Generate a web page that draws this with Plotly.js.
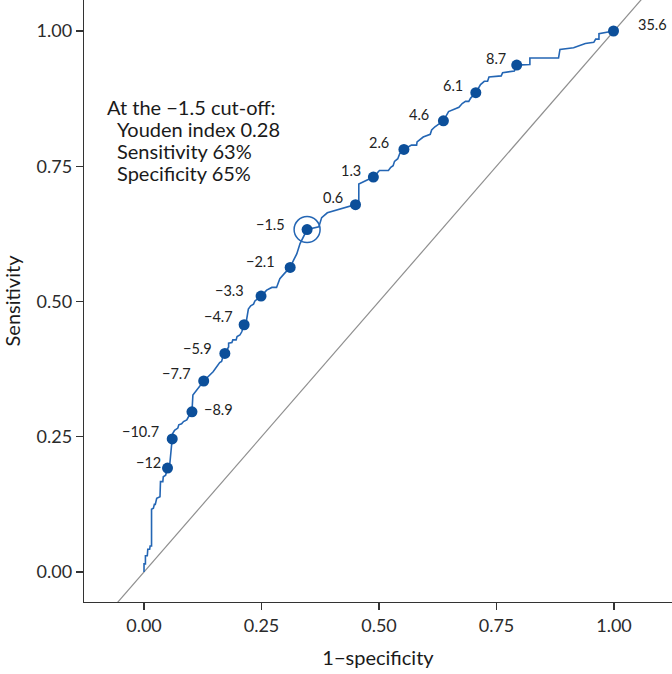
<!DOCTYPE html>
<html>
<head>
<meta charset="utf-8">
<script src="https://cdn.plot.ly/plotly-3.0.1.min.js"></script>
<style>
  html, body { margin: 0; padding: 0; background: #fff; }
  #graph { width: 672px; height: 674px; }
</style>
</head>
<body>
<div id="graph"></div>
<script>
// ROC curve vertices (1-specificity, sensitivity)
var rocX = [0.000, 0.000, 0.003, 0.003, 0.007, 0.008, 0.012, 0.013, 0.016, 0.016,
  0.020, 0.022, 0.024, 0.027, 0.034, 0.035, 0.040, 0.041, 0.046, 0.050,
  0.055, 0.057, 0.059, 0.060, 0.061, 0.065, 0.072, 0.074, 0.080, 0.084,
  0.091, 0.094, 0.102, 0.104, 0.127, 0.147, 0.156, 0.161, 0.165, 0.168,
  0.172, 0.180, 0.180, 0.187, 0.189, 0.196, 0.198, 0.204, 0.208, 0.213,
  0.218, 0.220, 0.222, 0.227, 0.233, 0.236, 0.249, 0.261, 0.272, 0.282,
  0.286, 0.289, 0.298, 0.311, 0.318, 0.325, 0.332, 0.339, 0.347, 0.372,
  0.378, 0.390, 0.450, 0.457, 0.457, 0.488, 0.501, 0.520, 0.525, 0.530,
  0.533, 0.540, 0.544, 0.553, 0.569, 0.580, 0.581, 0.594, 0.609, 0.612,
  0.619, 0.637, 0.648, 0.662, 0.670, 0.677, 0.684, 0.691, 0.695, 0.706,
  0.716, 0.724, 0.731, 0.734, 0.760, 0.763, 0.788, 0.793, 0.821, 0.821,
  0.882, 0.885, 0.914, 0.939, 0.957, 0.961, 0.968, 0.968, 0.999]
var rocY = [0.000, 0.015, 0.015, 0.030, 0.030, 0.042, 0.042, 0.048, 0.048, 0.116,
  0.118, 0.125, 0.125, 0.136, 0.139, 0.167, 0.167, 0.176, 0.179, 0.192,
  0.201, 0.219, 0.226, 0.246, 0.256, 0.262, 0.266, 0.272, 0.274, 0.278,
  0.281, 0.286, 0.296, 0.327, 0.353, 0.370, 0.380, 0.387, 0.389, 0.398,
  0.404, 0.416, 0.423, 0.424, 0.429, 0.429, 0.435, 0.438, 0.444, 0.457,
  0.465, 0.477, 0.486, 0.492, 0.495, 0.501, 0.510, 0.521, 0.526, 0.526,
  0.536, 0.542, 0.551, 0.563, 0.576, 0.588, 0.607, 0.619, 0.633, 0.638,
  0.655, 0.664, 0.679, 0.681, 0.717, 0.730, 0.742, 0.742, 0.748, 0.751,
  0.759, 0.764, 0.773, 0.781, 0.789, 0.789, 0.795, 0.804, 0.809, 0.817,
  0.823, 0.834, 0.851, 0.856, 0.859, 0.866, 0.870, 0.870, 0.876, 0.886,
  0.901, 0.907, 0.907, 0.915, 0.917, 0.923, 0.926, 0.937, 0.938, 0.950,
  0.950, 0.966, 0.969, 0.977, 0.979, 0.985, 0.985, 0.995, 1.000]

// marked cut-off points
var cutLabels = ['\u221212', '\u221210.7', '\u22128.9', '\u22127.7', '\u22125.9', '\u22124.7', '\u22123.3', '\u22122.1',
  '\u22121.5', '0.6', '1.3', '2.6', '4.6', '6.1', '8.7', '35.6']
var cutX = [0.050, 0.060, 0.102, 0.127, 0.172, 0.213, 0.249, 0.311, 0.347, 0.450, 0.488, 0.553, 0.637, 0.706, 0.793, 0.999]
var cutY = [0.192, 0.246, 0.296, 0.353, 0.404, 0.457, 0.510, 0.563, 0.633, 0.679, 0.730, 0.781, 0.834, 0.886, 0.937, 1.000]

var bestCut = 8 // index of the -1.5 cut-off
var noteLines = ['At the \u22121.5 cut-off:', 'Youden index 0.28', 'Sensitivity 63%', 'Specificity 65%']

var tickVals = [0, 0.25, 0.5, 0.75, 1]
var tickText = ['0.00', '0.25', '0.50', '0.75', '1.00']

var refLine = [-0.2, 1.2]

// label placement, px from each point
var labelShift = [
  [-5, 6, 'right'], [-11, 7, 'right'], [10, 2, 'left'], [-11, 8, 'right'],
  [-11, 5, 'right'], [-9, 8, 'right'], [-15, 6, 'right'], [-13, 6, 'right'],
  [-20, 5, 'right'], [-11, 7, 'right'], [-10, 7, 'right'], [-13, 7, 'right'],
  [-12, 6, 'right'], [-11, 7, 'right'], [-9, 7, 'right'], [22, 7, 'left']
]

var FONT = 'Lato, "Source Sans Pro", sans-serif'
var LINE = '#2466b4'
var DOT = '#0c4f9a'

var data = [
  {
    type: 'scatter', mode: 'lines', x: refLine, y: refLine,
    line: { color: '#8f8f8f', width: 1.2 }, hoverinfo: 'skip'
  },
  {
    type: 'scatter', mode: 'lines', x: rocX, y: rocY,
    line: { color: LINE, width: 1.6 }
  },
  {
    type: 'scatter', mode: 'markers', x: cutX, y: cutY,
    marker: { color: DOT, size: 11 }
  },
  {
    type: 'scatter', mode: 'markers', x: [cutX[bestCut]], y: [cutY[bestCut]],
    marker: { symbol: 'circle-open', color: LINE, size: 26, line: { width: 1.5 } }
  }
]

var annotations = cutLabels.map(function (lab, i) {
  return {
    x: cutX[i], y: cutY[i], xref: 'x', yref: 'y', text: lab, showarrow: false,
    xanchor: labelShift[i][2], yanchor: 'middle',
    xshift: labelShift[i][0], yshift: labelShift[i][1],
    font: { family: FONT, size: 14.5, color: '#222' }
  }
})

noteLines.forEach(function (t, i) {
  annotations.push({
    x: -0.083, y: 0.8595, xref: 'x', yref: 'y', text: t, showarrow: false,
    xanchor: 'left', yanchor: 'middle',
    xshift: i === 0 ? 0 : 10, yshift: -22 * i,
    font: { family: FONT, size: 20, color: '#1a1a1a' }
  })
})

var axisCommon = {
  showgrid: false, zeroline: false, showline: true,
  linecolor: '#333', linewidth: 1.3,
  ticks: 'outside', ticklen: 7, tickwidth: 1.3, tickcolor: '#333',
  tickvals: tickVals, ticktext: tickText,
  tickfont: { family: FONT, size: 18, color: '#2b2b2b' }
}

var layout = {
  width: 672, height: 674,
  margin: { l: 84, r: 0, t: 0, b: 72 },
  paper_bgcolor: '#fff', plot_bgcolor: '#fff',
  showlegend: false,
  xaxis: Object.assign({}, axisCommon, {
    range: [-0.1277, 1.1234],
    title: { text: '1\u2212specificity', font: { family: FONT, size: 20, color: '#1a1a1a' }, standoff: 16 }
  }),
  yaxis: Object.assign({}, axisCommon, {
    range: [-0.0555, 1.0573],
    title: { text: 'Sensitivity', font: { family: FONT, size: 20, color: '#1a1a1a' }, standoff: 14 }
  }),
  annotations: annotations
}

Plotly.newPlot('graph', data, layout, { displayModeBar: false, staticPlot: true })
</script>
</body>
</html>
